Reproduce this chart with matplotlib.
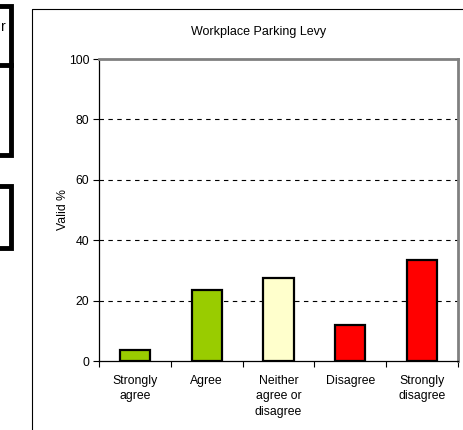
import matplotlib
matplotlib.use('Agg')
import matplotlib.pyplot as plt
from matplotlib.lines import Line2D

plt.rcParams['font.family'] = ['Liberation Sans', 'DejaVu Sans']

categories = ['Strongly\nagree', 'Agree', 'Neither\nagree or\ndisagree', 'Disagree', 'Strongly\ndisagree']
values = [3.7, 23.4, 27.4, 11.8, 33.3]
colors = ['#99CC00', '#99CC00', '#FFFFCC', '#FF0000', '#FF0000']

W, H = 463, 430
fig = plt.figure(figsize=(W / 100, H / 100), dpi=100)


def fx(x):
    return x / W


def fy(y):
    return 1 - y / H


def fig_line(xs, ys, **kw):
    fig.add_artist(Line2D([fx(x) for x in xs], [fy(y) for y in ys],
                          transform=fig.transFigure, **kw))


# remnants of neighbouring boxes on the left edge
fig_line([0, 10.5, 10.5, 0], [5.5, 5.5, 65, 65], color='black', lw=3.5, solid_joinstyle='miter')
fig_line([10.5, 10.5, 0], [65, 155, 155], color='black', lw=3.5, solid_joinstyle='miter')
fig_line([0, 10.5, 10.5, 0], [185.5, 185.5, 248, 248], color='black', lw=3.5, solid_joinstyle='miter')
fig.text(fx(1), fy(27), 'r', fontsize=10, va='center', ha='left')

# chart area border
fig_line([32, 32, W], [H, 9, 9], color='black', lw=0.8)

ax = fig.add_axes([fx(99), fy(361), fx(458 - 99), (361 - 59) / H])
x = range(len(categories))
ax.bar(x, values, width=0.42, color=colors, edgecolor='black', linewidth=1.6, zorder=3)

ax.set_xlim(-0.5, 4.5)
ax.set_ylim(0, 100)
ax.set_yticks([0, 20, 40, 60, 80, 100])
ax.tick_params(axis='y', direction='out', length=4, width=0.8, labelsize=8.8, pad=3)
ax.set_xticks(list(x))
ax.set_xticklabels(categories, fontsize=8.8, linespacing=1.4)
ax.tick_params(axis='x', which='major', length=0, pad=10)
ax.set_xticks([i - 0.5 for i in range(len(categories) + 1)], minor=True)
ax.tick_params(axis='x', which='minor', direction='out', length=4, width=0.8)

for g in [20, 40, 60, 80]:
    ax.axhline(g, color='black', lw=0.8, ls=(0, (4, 4)), zorder=1)

ax.spines['left'].set_color('black')
ax.spines['left'].set_linewidth(0.9)
ax.spines['bottom'].set_color('black')
ax.spines['bottom'].set_linewidth(0.9)
for s in ['top', 'right']:
    ax.spines[s].set_color('#808080')
    ax.spines[s].set_linewidth(2)

ax.set_ylabel('Valid %', fontsize=8.8, labelpad=0)
fig.text(fx(259), fy(32), 'Workplace Parking Levy', fontsize=9, ha='center', va='center')

fig.savefig('out.png', dpi=100)
